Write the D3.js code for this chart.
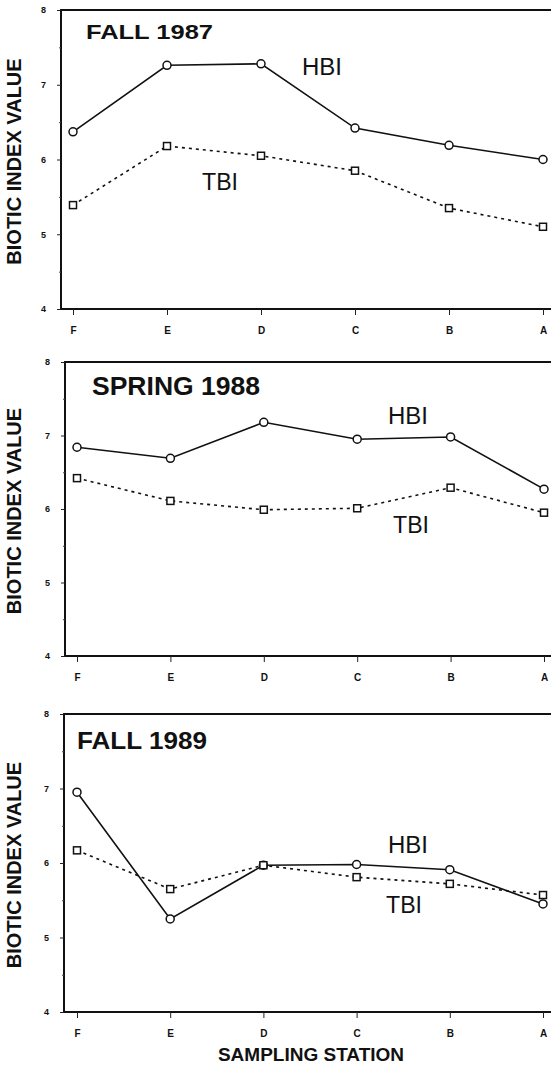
<!DOCTYPE html>
<html>
<head>
<meta charset="utf-8">
<script src="https://cdn.jsdelivr.net/npm/d3@7"></script>
<style>
  body { margin: 0; background: #fff; }
  text { font-family: "Liberation Sans", Arial, Helvetica, sans-serif; }
</style>
</head>
<body>
<script>

// data

const stations = ["F", "E", "D", "C", "B", "A"];
const majorTicks = [4, 5, 6, 7, 8];
const minorTicks = [4.5, 5.5, 6.5, 7.5];
const titles = ["FALL 1987", "SPRING 1988", "FALL 1989"];
const seriesNames = ["HBI", "TBI"];

const hbi1987 = [6.37, 7.26, 7.28, 6.42, 6.19, 6.0];
const tbi1987 = [5.39, 6.18, 6.05, 5.85, 5.35, 5.10];

const hbi1988 = [6.84, 6.69, 7.18, 6.95, 6.98, 6.27];
const tbi1988 = [6.42, 6.11, 5.99, 6.01, 6.29, 5.95];

const hbi1989 = [6.95, 5.25, 5.97, 5.98, 5.91, 5.45];
const tbi1989 = [6.17, 5.65, 5.97, 5.81, 5.72, 5.57];

const w = 551;
const h = 1067;

// layout for each panel (pixels)
const panels = [
  {hbi: hbi1987, tbi: tbi1987, top: 10, bottom: 309, left: 61, x0: 73, x1: 543,
   title: {x: 86, y: 39, size: 21, len: 127},
   hbiLab: {x: 302, y: 75}, tbiLab: {x: 202, y: 190}},
  {hbi: hbi1988, tbi: tbi1988, top: 362, bottom: 656, left: 65, x0: 77, x1: 544,
   title: {x: 92, y: 395, size: 25, len: 168},
   hbiLab: {x: 388, y: 424}, tbiLab: {x: 393, y: 533}},
  {hbi: hbi1989, tbi: tbi1989, top: 714, bottom: 1012, left: 64, x0: 77, x1: 543,
   title: {x: 77, y: 749, size: 24, len: 130},
   hbiLab: {x: 388, y: 853}, tbiLab: {x: 386, y: 913}}
];

// add svg

const svg = d3.select("body")
  .append("svg")
    .attr("width", w)
    .attr("height", h);

svg.append("rect")
    .attr("width", w)
    .attr("height", h)
    .attr("fill", "white");

panels.forEach(function (p, i) {

  const xScale = d3.scalePoint()
      .domain(stations)
      .range([p.x0, p.x1]);

  const yScale = d3.scaleLinear()
      .domain([4, 8])
      .range([p.bottom, p.top]);

  const g = svg.append("g").attr("class", "panel");

  // frame: top, left, bottom

  g.append("path")
      .attr("d", `M${w},${p.top} H${p.left} V${p.bottom} H${w}`)
      .attr("fill", "none")
      .attr("stroke", "#111")
      .attr("stroke-width", 2);

  // y axis, major and minor ticks

  const yAxis = d3.axisLeft(yScale)
      .tickValues(majorTicks)
      .tickFormat(d3.format("d"))
      .tickSize(4)
      .tickPadding(11);

  const ya = g.append("g")
      .attr("transform", `translate(${p.left},0)`)
      .call(yAxis);
  ya.select(".domain").remove();
  ya.selectAll("text")
      .attr("font-size", 9)
      .attr("font-weight", "bold")
      .attr("fill", "#111");
  ya.selectAll("line").attr("stroke", "#222").attr("stroke-width", 1);

  const ym = g.append("g")
      .attr("transform", `translate(${p.left},0)`)
      .call(d3.axisLeft(yScale).tickValues(minorTicks).tickSize(2).tickFormat(""));
  ym.select(".domain").remove();
  ym.selectAll("line").attr("stroke", "#444");

  // x axis

  const xAxis = d3.axisBottom(xScale)
      .tickSize(6)
      .tickPadding(12);

  const xa = g.append("g")
      .attr("transform", `translate(0,${p.bottom})`)
      .call(xAxis);
  xa.select(".domain").remove();
  xa.selectAll("text")
      .attr("font-size", 10)
      .attr("font-weight", "bold")
      .attr("fill", "#111");
  xa.selectAll("line").attr("stroke", "#222").attr("stroke-width", 1);

  // y axis title

  svg.append("text")
      .attr("transform", `translate(21,${(p.top + p.bottom) / 2 + 2}) rotate(-90)`)
      .attr("text-anchor", "middle")
      .attr("font-size", 20)
      .attr("font-weight", "bold")
      .attr("fill", "#111")
      .text("BIOTIC INDEX VALUE");

  // lines

  const line = d3.line()
      .x((d, j) => xScale(stations[j]))
      .y(d => yScale(d));

  g.append("path")
      .datum(p.hbi)
      .attr("d", line)
      .attr("fill", "none")
      .attr("stroke", "#111")
      .attr("stroke-width", 1.6);

  g.append("path")
      .datum(p.tbi)
      .attr("d", line)
      .attr("fill", "none")
      .attr("stroke", "#111")
      .attr("stroke-width", 1.6)
      .attr("stroke-dasharray", "3,4");

  // markers: circles for HBI, squares for TBI

  g.selectAll(".hbiPt")
      .data(p.hbi)
      .enter().append("circle")
      .attr("class", "hbiPt")
      .attr("cx", (d, j) => xScale(stations[j]))
      .attr("cy", d => yScale(d))
      .attr("r", 4)
      .attr("fill", "white")
      .attr("stroke", "#111")
      .attr("stroke-width", 1.5);

  g.selectAll(".tbiPt")
      .data(p.tbi)
      .enter().append("rect")
      .attr("class", "tbiPt")
      .attr("x", (d, j) => xScale(stations[j]) - 3.5)
      .attr("y", d => yScale(d) - 3.5)
      .attr("width", 7)
      .attr("height", 7)
      .attr("fill", "white")
      .attr("stroke", "#111")
      .attr("stroke-width", 1.5);

  // panel title and series labels

  g.append("text")
      .attr("x", p.title.x)
      .attr("y", p.title.y)
      .attr("font-size", p.title.size)
      .attr("font-weight", "bold")
      .attr("textLength", p.title.len)
      .attr("lengthAdjust", "spacingAndGlyphs")
      .attr("fill", "#111")
      .text(titles[i]);

  g.append("text")
      .attr("x", p.hbiLab.x)
      .attr("y", p.hbiLab.y)
      .attr("font-size", 23)
      .attr("textLength", 40)
      .attr("lengthAdjust", "spacingAndGlyphs")
      .attr("fill", "#111")
      .text(seriesNames[0]);

  g.append("text")
      .attr("x", p.tbiLab.x)
      .attr("y", p.tbiLab.y)
      .attr("font-size", 23)
      .attr("textLength", 36)
      .attr("lengthAdjust", "spacingAndGlyphs")
      .attr("fill", "#111")
      .text(seriesNames[1]);
});

// x axis title

svg.append("text")
    .attr("x", 311)
    .attr("y", 1061)
    .attr("text-anchor", "middle")
    .attr("font-size", 19)
    .attr("font-weight", "bold")
    .attr("fill", "#111")
    .text("SAMPLING STATION");

</script>
</body>
</html>
